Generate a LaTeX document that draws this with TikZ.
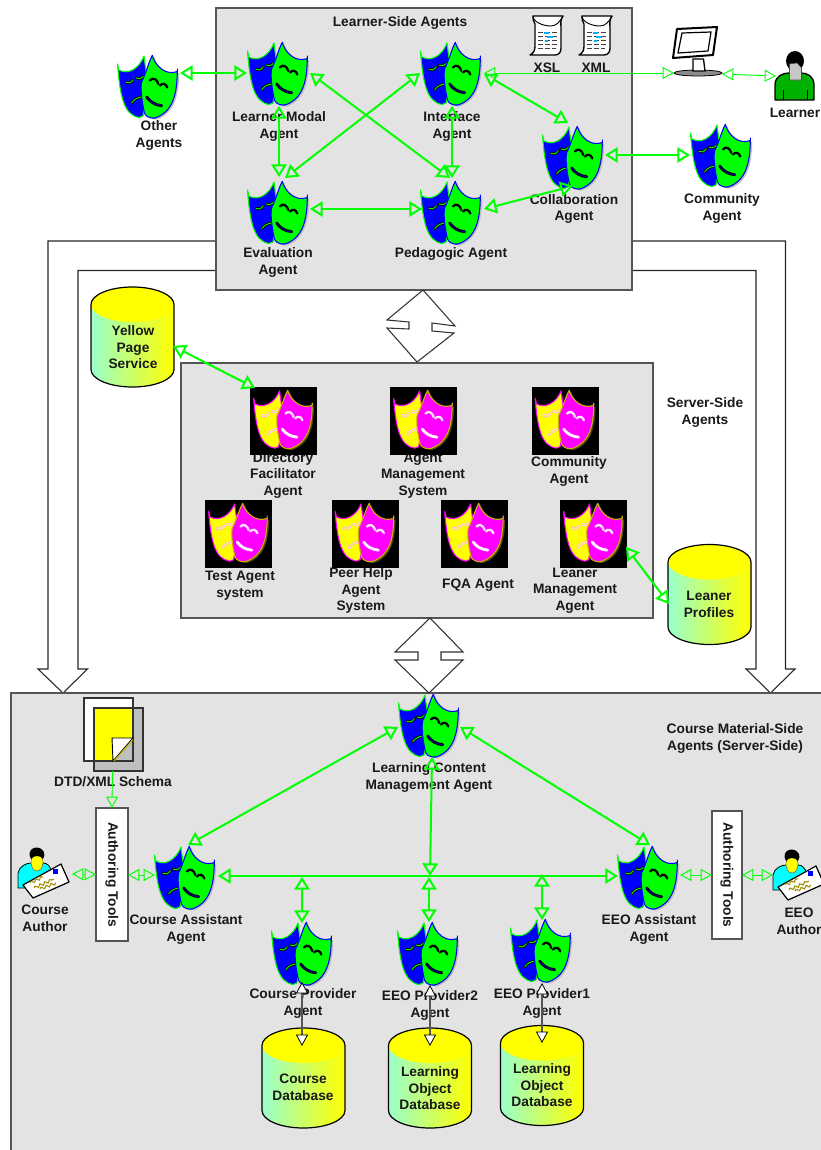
\documentclass[tikz,border=0pt]{standalone}
\usepackage{fontspec}
\setmainfont{Liberation Sans}
\usetikzlibrary{arrows.meta,decorations.pathmorphing}
\definecolor{lime}{HTML}{00FF00}
\definecolor{panelgrey}{HTML}{E3E3E3}
\definecolor{edgegrey}{HTML}{555555}
\definecolor{aqua}{HTML}{99FFCC}
\definecolor{olivey}{HTML}{C8B400}
\definecolor{yellow}{HTML}{FFFF00}
\definecolor{magenta}{HTML}{FF00FF}
\definecolor{cyan}{HTML}{00FFFF}
\definecolor{blue}{HTML}{0000FF}
\tikzset{
  hit/.style={inner sep=0pt,outer sep=0pt},
  panel/.style={draw=edgegrey,fill=panelgrey,line width=.85pt,inner sep=0pt,outer sep=0pt},
  lab/.style={font=\fontsize{10.3}{12.4}\selectfont\bfseries,align=center,inner sep=0pt,text=black!90,yshift=-1.1pt},
  tallab/.style={font=\fontsize{10.3}{12.4}\selectfont\bfseries,align=center,inner sep=0pt,text=black!90},
  thicklink/.style={draw=lime,line width=1.5pt,{Triangle[open,length=9.5pt,width=11.5pt]}-{Triangle[open,length=9.5pt,width=11.5pt]}},
  thinlink/.style={draw=lime,line width=.7pt,{Triangle[open,length=8.5pt,width=9pt]}-{Triangle[open,length=8.5pt,width=9pt]}},
  thinend/.style={draw=lime,line width=.7pt,-{Triangle[open,length=8.5pt,width=9pt]}},
  dblink/.style={draw=edgegrey,line width=.9pt,{Triangle[fill=white,color=black,line width=.6pt,length=8.5pt,width=9pt]}-{Triangle[fill=white,color=black,line width=.6pt,length=8.5pt,width=9pt]}},
  block/.style={draw=black!85,fill=white,line width=.8pt,line join=miter},
}
\newcommand\lnk[5]{\draw[#1] ([shift={(#3)}]#2.center) -- ([shift={(#5)}]#4.center);}
% left fill, left edge, right fill, right edge, shadow, left feature, left feature core, right feature, right feature core
\newcommand\maskart[9]{%
  \fill[#5] (6.3,-30.2) .. controls (9,-19.5) and (20,-9.5) .. (31.3,-14) -- (31.3,-16.5)
     .. controls (31,8) and (27,26) .. (9,32.5) .. controls (1,32.5) and (-1,28.5) .. (-1.5,25.5)
     .. controls (-4,11.5) and (-5,-3.5) .. (-3.3,-5.8) .. controls (2,-18.5) and (3,-24) .. (6.3,-30.2) -- cycle;
  \draw[fill=#1,draw=#2,line width=.8pt,line join=round] (-30.5,-23) -- (-29,-17)
     .. controls (-20,-12) and (-9,-18) .. (-4,-31) -- (0,0) -- (-5,29) -- (-9,30.5)
     .. controls (-24,28) and (-28,10) .. cycle;
  \draw[#6,line width=2pt,line cap=round] (-22,-4.7) .. controls (-20,-3) and (-17,-4) .. (-14.7,-7.3);
  \draw[#7,line width=.7pt,line cap=round] (-22,-4.7) .. controls (-20,-3) and (-17,-4) .. (-14.7,-7.3);
  \draw[#6,line width=2pt,line cap=round] (-12,-9) .. controls (-10,-7.5) and (-7,-8) .. (-4.5,-11);
  \draw[#7,line width=.7pt,line cap=round] (-12,-9) .. controls (-10,-7.5) and (-7,-8) .. (-4.5,-11);
  \draw[#6,line width=2pt,line cap=round] (-16.3,16) .. controls (-14,12) and (-10,10.5) .. (-6.3,10);
  \draw[#7,line width=.7pt,line cap=round] (-16.3,16) .. controls (-14,12) and (-10,10.5) .. (-6.3,10);
  \draw[fill=#3,draw=#4,line width=.8pt,line join=round] (4.3,-31.7)
     .. controls (7,-21) and (18,-11) .. (29.3,-15.5) -- (29.3,-18) -- (29.3,-15.5)
     .. controls (29,7) and (25,25) .. (7,31) .. controls (-2,31.5) and (-3.5,27) .. (-4,24)
     .. controls (-7,10) and (-8,-5) .. (-5.3,-7.3) .. controls (0,-20) and (1,-25.5) .. cycle;
  \draw[#8,line width=1.7pt,line cap=round] (2,-6.7) .. controls (5,-10) and (9,-8) .. (10.3,-3);
  \draw[#8,line width=1.7pt,line cap=round] (12,-1.5) .. controls (14.5,-4.5) and (18,-3.5) .. (19.3,0.5);
  \draw[#8,line width=2.2pt,line cap=round] (-1.3,10) .. controls (2,15) and (7,18) .. (13.7,18.7);
  \draw[#9,line width=.7pt,line cap=round] (-1.3,10) .. controls (2,15) and (7,18) .. (13.7,18.7);
}
\newcommand\maskB[2]{%
  \node[hit,minimum width=46.5pt,minimum height=48pt] (#1) at (#2) {};
  \begin{scope}[shift={(#2)}]\maskart{blue}{lime}{lime}{blue}{black!25}{black}{lime}{black}{blue!60!black}\end{scope}}
\newcommand\maskY[2]{%
  \node[hit,fill=black,minimum width=50.25pt,minimum height=51pt] (#1) at (#2) {};
  \begin{scope}[shift={(#2)},yscale=.93,xscale=.98,yshift=1pt]\maskart{yellow}{magenta}{magenta}{olivey}{olivey!40!black}{magenta!30!white}{yellow!70!white}{white!90!magenta}{white}\end{scope}}
\newcommand\dbcyl[2]{% name, centre
  \node[hit,minimum width=62.25pt,minimum height=75pt] (#1) at (#2) {};
  \begin{scope}[shift={(#2)}]
    \path[left color=aqua,right color=yellow] (-41.5,-32.5) -- (-41.5,32.5) arc[start angle=180,end angle=0,x radius=41.5,y radius=17.5] -- (41.5,-32.5) -- cycle;
    \fill[yellow] (0,-32.5) ellipse[x radius=41.5,y radius=17.5];
    \draw[black,line width=.9pt] (-41.5,-32.5) -- (-41.5,32.5) arc[start angle=180,end angle=0,x radius=41.5,y radius=17.5] -- (41.5,-32.5) arc[start angle=0,end angle=-180,x radius=41.5,y radius=17.5];
  \end{scope}}
\newcommand\scroll[2]{%
  \node[hit,minimum width=24.75pt,minimum height=30.75pt] (#1) at (#2) {};
  \begin{scope}[shift={(#2)}]
    \draw[black,line width=1pt,fill=white,line join=round] (-14,-20) -- (16,-20) .. controls (13,-16) and (14,-12) .. (14,-8) -- (14,12)
      .. controls (14,16) and (12,19) .. (8,19) -- (-17,19) .. controls (-13,17) and (-12,14) .. (-12,10) -- (-12,-12)
      .. controls (-13,-15) and (-15,-17) .. cycle;
    \draw[black,line width=.7pt] (-14,-20) .. controls (-14,-14) and (-4,-10) .. (4,-10) .. controls (9,-10) and (13,-14) .. (16,-20);
    \draw[black!75,line width=.7pt,dash pattern=on 4pt off 1.2pt] (-9,-4) -- (11,-4) (-9,0) -- (11,0) (-9,4) -- (11,4) (-9,8) -- (11,8) (-9,12) -- (9,12);
    \draw[cyan!70!blue,line width=.8pt] (-3,-3) -- (2,-3) (0,1) -- (6,1) (-2,5) -- (1,5);
  \end{scope}}
\newcommand\personA[2]{%
  \node[hit,minimum width=38pt,minimum height=39pt] (#1) at (#2) {};
  \begin{scope}[shift={(#2)}]
    \draw[black,fill=cyan,line width=.6pt] (-27,16) -- (-27,1) .. controls (-26,-6) and (-18,-9) .. (-14,-9) -- (-2,-9) .. controls (2,-9) and (6,-6) .. (6,0) -- (6,16) -- cycle;
    \draw[black!70,fill=yellow,line width=.3pt] (-8,-10) ellipse[x radius=6,y radius=9];
    \fill[black] (-15.5,-17) .. controls (-16,-27) and (-1,-27) .. (-0.5,-17) .. controls (-1,-14) and (-2,-14) .. (-2.5,-13) .. controls (-4,-17) and (-12,-17) .. (-13.5,-13) .. controls (-14,-14) and (-15,-14) .. cycle;
    \draw[black,fill=white,line width=.9pt,line join=round] (-22,13) -- (16,-8) -- (24,10) -- (-12,26) -- cycle;
    \fill[blue] (7.5,-3) rectangle (12.5,2);
    \draw[olivey!80!black,line width=.8pt,decorate,decoration={snake,amplitude=1pt,segment length=4pt}] (-15,11) -- (-2,5);
    \draw[olivey!80!black,line width=.8pt,decorate,decoration={snake,amplitude=1pt,segment length=4pt}] (-11,16) -- (9,7);
    \draw[olivey!80!black,line width=.8pt,decorate,decoration={snake,amplitude=1pt,segment length=4pt}] (-5,17) -- (11,11);
  \end{scope}}
\begin{document}
\begin{tikzpicture}[x=.75pt,y=-.75pt]
\useasboundingbox (0,0) rectangle (821,1150);
\clip (0,0) rectangle (821,1150);
% block arrows
\draw[block] (216,241) -- (48,241) -- (48,669) -- (38,669) -- (63,693) -- (87.5,669) -- (78,669) -- (78,270.5) -- (216,270.5);
\draw[block] (632,241) -- (785.5,241) -- (785.5,669) -- (795,669) -- (770.5,693) -- (746,669) -- (756,669) -- (756,270.5) -- (632,270.5);
% panels
\node[panel,minimum width=312pt,minimum height=211.5pt] (learnerpanel) at (424,149) {};
\node[panel,minimum width=354pt,minimum height=191.25pt] (serverpanel) at (417,490.5) {};
\node[panel,minimum width=615pt,minimum height=360pt] (coursepanel) at (421,933) {};
% double arrows
\draw[block,draw=black!80] (423,290) -- (455,326) -- (432,323) -- (432,331) -- (454,333) -- (417,362) -- (387,328) -- (409,329) -- (409,322) -- (387,320) -- cycle;
\draw[block,draw=black!80] (430,618) -- (463,652) -- (441,652) -- (441,660) -- (463,660) -- (429,693) -- (395,660) -- (418,660) -- (418,652) -- (395,652) -- cycle;
% labels under the icons
\node[lab] (t1) at (400,22) {Learner-Side Agents};
\node[lab] (t2) at (279,125) {Learner Modal\\Agent};
\node[lab] (t3) at (452,125) {Interface\\Agent};
\node[lab] (t4) at (574,207.5) {Collaboration\\Agent};
\node[lab] (t5) at (278,261) {Evaluation\\Agent};
\node[lab] (t6) at (451,253) {Pedagogic Agent};
\node[lab] (t7) at (159,134) {Other\\Agents};
\node[lab] (t8) at (722,207) {Community\\Agent};
\node[lab] (t9) at (795,111) {Learner};
\node[lab] (t10) at (547,66) {XSL};
\node[lab] (t11) at (596,66) {XML};
\node[lab] (t12) at (283,474) {Directory\\Facilitator\\Agent};
\node[lab] (t13) at (423,474) {Agent\\Management\\System};
\node[lab] (t14) at (569,470) {Community\\Agent};
\node[lab] (t15) at (240,584) {Test Agent\\system};
\node[lab] (t16) at (361,589) {Peer Help\\Agent\\System};
\node[lab] (t17) at (478,584) {FQA Agent};
\node[lab] (t18) at (575,589) {Leaner\\Management\\Agent};
\node[lab] (t19) at (705,411) {Server-Side\\Agents};
\node[lab] (t20) at (735,737) {Course Material-Side\\Agents (Server-Side)};
\node[lab] (t21) at (113,780) {DTD/XML Schema};
\node[lab] (t22) at (429,776) {Learning Content\\Management Agent};
\node[lab] (t23) at (45,917) {Course\\Author};
\node[lab] (t24) at (186,928) {Course Assistant\\Agent};
\node[lab] (t25) at (649,928) {EEO Assistant\\Agent};
\node[lab] (t26) at (799,920) {EEO\\Author};
\node[lab] (t27) at (303,1002) {Course Provider\\Agent};
\node[lab] (t28) at (430,1004) {EEO Provider2\\Agent};
\node[lab] (t29) at (542,1002) {EEO Provider1\\Agent};
% blue and green masks
\maskB{om}{148,87}
\maskB{lm}{278,74}
\maskB{if}{451,74}
\maskB{co}{573,158}
\maskB{ev}{278,213}
\maskB{pe}{451,213}
\maskB{cm}{721,156}
\maskB{lc}{429,726}
\maskB{ca}{185,878}
\maskB{ea}{648,878}
\maskB{cp}{302,954}
\maskB{e2}{428,954}
\maskB{e1}{541,951}
% yellow and magenta masks
\maskY{df}{283.5,421}
\maskY{ams}{423.5,421}
\maskY{scm}{565,421}
\maskY{tst}{238.5,534}
\maskY{peer}{365,534}
\maskY{fqa}{474.5,534}
\maskY{lmg}{593.5,534}
% scrolls
\scroll{xsl}{547,36}
\scroll{xml}{596,36}
% monitor
\node[hit,minimum width=37.5pt,minimum height=37.5pt] (mon) at (698,52) {};
\begin{scope}[shift={(mon)}]
  \draw[black,line width=.6pt,fill=black!45] (0,21) ellipse[x radius=24,y radius=3];
  \draw[black,line width=1pt,fill=white] (-5,7) -- (5.5,7) -- (7,19) -- (-5,19) -- cycle;
  \draw[black,line width=1.5pt,fill=white,line join=round] (-21,-23) -- (19,-25) -- (15,3) -- (-25,6) -- cycle;
  \draw[black,line width=.9pt] (-16,-19) -- (13,-20) -- (10,-1) -- (-20,1) -- cycle;
\end{scope}
% learner
\node[hit,minimum width=29.25pt,minimum height=36.75pt] (lr) at (795,75) {};
\begin{scope}[shift={(lr)}]
  \draw[black,fill=green!70!black,line width=1pt,line join=round] (-20,25) -- (-20,10) .. controls (-20,1) and (-12,-2) .. (-6,-2) -- (6,-2) .. controls (12,-2) and (19,1) .. (19,10) -- (19,25) -- cycle;
  \draw[black,line width=.7pt] (-12,15) -- (-12,25) (12,15) -- (12,25);
  \fill[black] (0,-14) ellipse[x radius=9,y radius=10];
  \draw[black!70,fill=black!22,line width=.4pt] (-5.5,-11) -- (2,-12) -- (6.5,-7) -- (6.5,5) -- (-5.5,5) -- cycle;
\end{scope}
% authors
\personA{au1}{45,872}
\personA{au2}{800,874}
% databases
\dbcyl{yp}{132.5,337}
\dbcyl{lp}{709.5,594.5}
\dbcyl{cdb}{303.5,1078}
\dbcyl{lo2}{430,1078}
\dbcyl{lo1}{542,1075.5}
\node[lab] (t30) at (133,346) {Yellow\\Page\\Service};
\node[lab] (t31) at (709,603) {Leaner\\Profiles};
\node[lab] (t32) at (303,1086) {Course\\Database};
\node[lab] (t33) at (430,1087) {Learning\\Object\\Database};
\node[lab] (t34) at (542,1084) {Learning\\Object\\Database};
% DTD document
\node[hit,minimum width=44.25pt,minimum height=54.75pt] (dtd) at (113.5,734.5) {};
\draw[black!80,fill=white,line width=.8pt] (84,698) rectangle (133,761);
\draw[black!80,fill=black!25,line width=.8pt] (94,708) rectangle (143,771);
\fill[yellow] (94,709) -- (133,709) -- (133,738) -- (113,761) -- (94,761) -- cycle;
\draw[black!80,line width=.8pt] (94,708) rectangle (133,761);
\draw[black,fill=white,line width=.7pt] (112,738) -- (133,738) -- (113,761) -- cycle;
\draw[olivey,line width=.8pt] (133,739.5) -- (114,761);
% authoring tools
\node[panel,fill=white,minimum width=24pt,minimum height=99.75pt] (at1) at (112,874.5) {};
\node[panel,fill=white,minimum width=22.5pt,minimum height=96pt] (at2) at (727,875) {};
\node[tallab,rotate=-90] (t35) at (112,874.5) {Authoring Tools};
\node[tallab,rotate=-90] (t36) at (727,875) {Authoring Tools};
% hubs on the bus
\coordinate (hub) at (430,876);
\coordinate (h1) at (302,876);
\coordinate (h3) at (542,874);
% connectors
\lnk{thicklink}{om}{32,-14}{lm}{-31,-1}
\lnk{thicklink}{lm}{1,32}{ev}{1,-36}
\lnk{thicklink}{lm}{32,-1}{pe}{-1,-35}
\lnk{thicklink}{if}{-31,-1}{ev}{7,-35}
\lnk{thicklink}{if}{1,32}{pe}{1,-35}
\lnk{thicklink}{ev}{32,-4}{pe}{-29,-4}
\lnk{thicklink}{if}{33,0}{co}{-5,-35}
\lnk{thicklink}{pe}{33,-4}{co}{0,28}
\lnk{thicklink}{co}{32,-3}{cm}{-31,-1}
\lnk{thinlink}{if}{33,-1}{mon}{-24,21}
\lnk{thinlink}{mon}{24,22}{lr}{-19,1}
\lnk{thicklink}{yp}{40.5,9}{df}{-28.5,-33}
\lnk{thicklink}{lmg}{32.5,13}{lp}{-40.5,9.5}
\lnk{thicklink}{lc}{-31,1}{ca}{3,-33}
\lnk{thicklink}{lc}{31,1}{ea}{2,-33}
\lnk{thicklink}{lc}{3,31}{hub}{0,0}
\lnk{thicklink}{ca}{33,-2}{ea}{-30,-2}
\lnk{thicklink}{h1}{0,1}{cp}{0,-31}
\lnk{thicklink}{hub}{-1,1}{e2}{1,-32}
\lnk{thicklink}{h3}{0,0}{e1}{1,-31}
\lnk{dblink}{cp}{0,28}{cdb}{-1.5,-32}
\lnk{dblink}{e2}{2,31}{lo2}{0,-32}
\lnk{dblink}{e1}{1,32}{lo1}{0,-32.5}
\lnk{thinend}{dtd}{-1,36.5}{at1}{0,-66.5}
\lnk{thinlink}{au1}{27,2}{at1}{-16,0}
\lnk{thinlink}{at1}{16,.5}{ca}{-30,-3}
\lnk{thinlink}{ea}{32,-3}{at2}{-15,0}
\lnk{thinlink}{at2}{15,0}{au2}{-27,1}
\end{tikzpicture}
\end{document}
